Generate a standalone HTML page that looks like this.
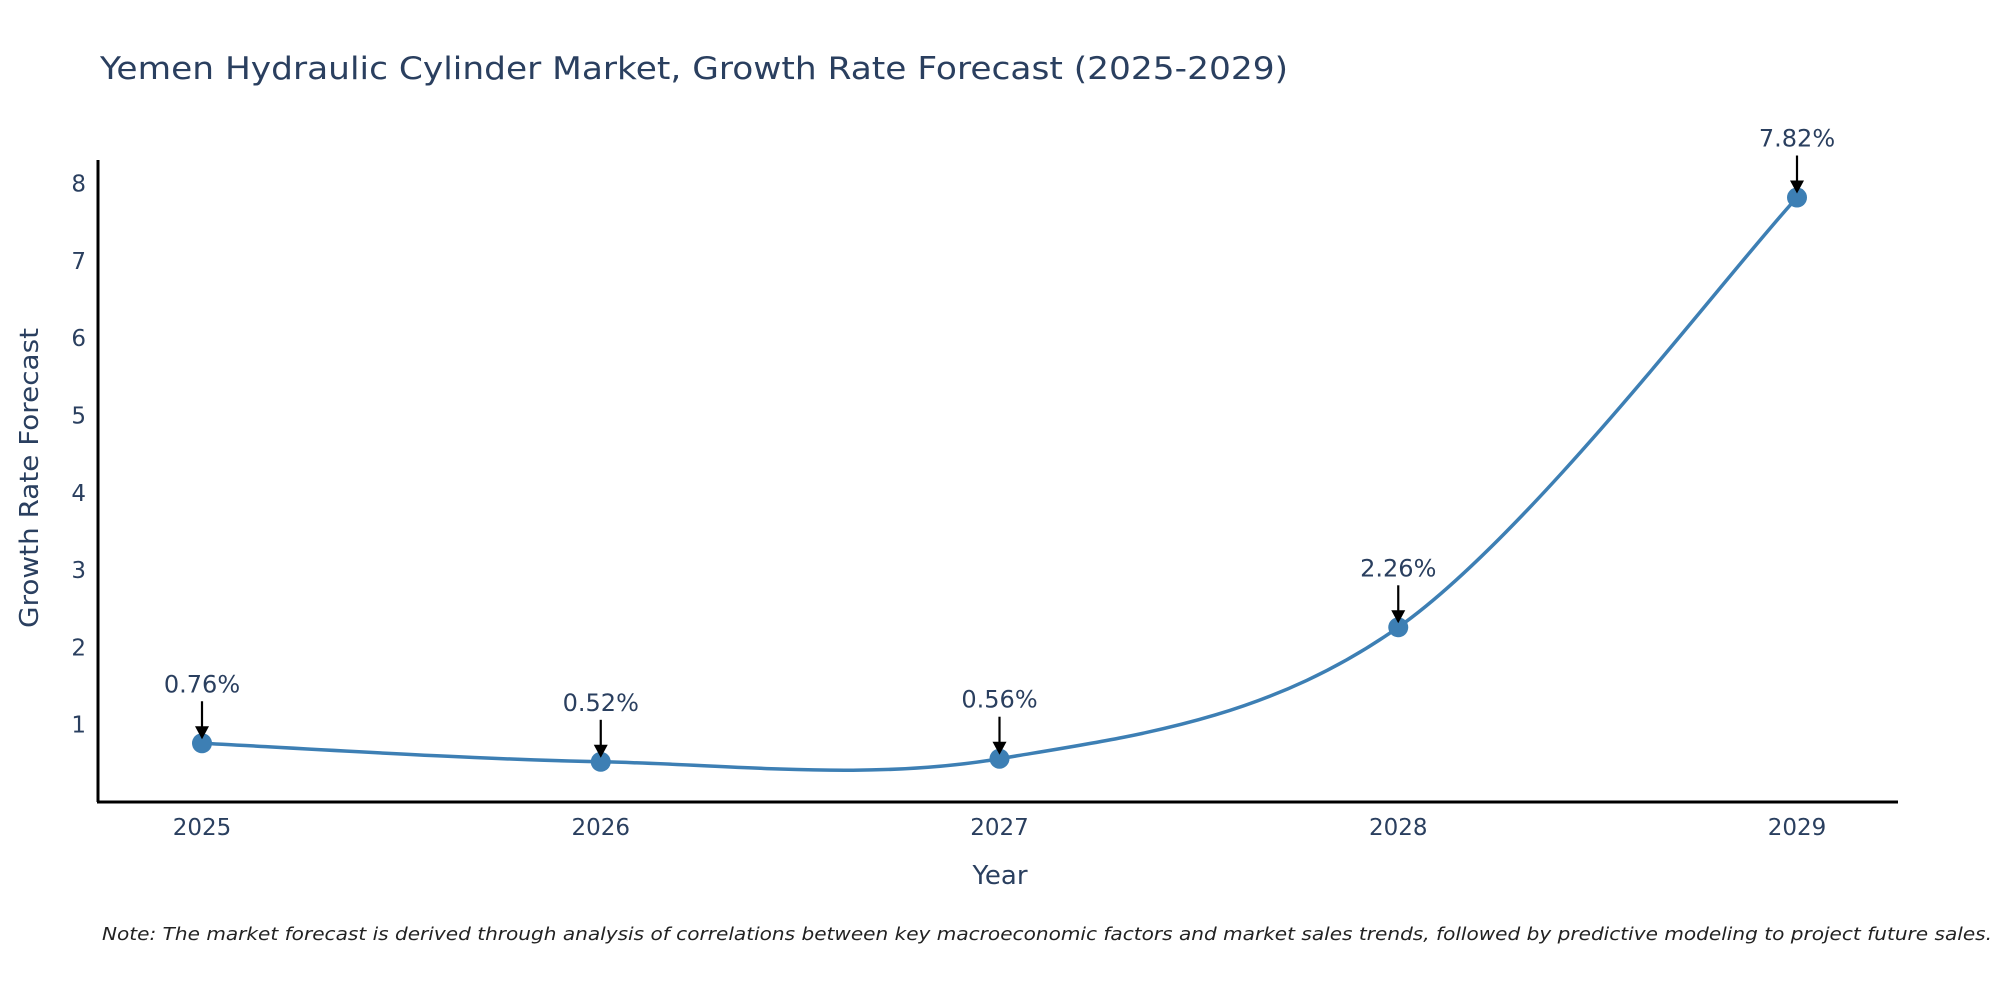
<!DOCTYPE html>
<html><head><meta charset="utf-8"><style>
body{margin:0;background:#fff;}
svg{display:block;font-family:"DejaVu Sans","Liberation Sans",sans-serif;}
</style></head><body>
<svg id="chart" width="2000" height="1000" viewBox="0 0 2000 1000">
<text x="100" y="79" font-size="31" fill="#2a3f5f" textLength="1188" lengthAdjust="spacingAndGlyphs">Yemen Hydraulic Cylinder Market, Growth Rate Forecast (2025-2029)</text>
<g id="yticks"></g><g id="xticks"></g>
<line x1="98" y1="160" x2="98" y2="802" stroke="#000" stroke-width="3"/>
<line x1="97" y1="802" x2="1898" y2="802" stroke="#000" stroke-width="3"/>
<path id="line" fill="none" stroke="#3d7fb4" stroke-width="3.5"/>
<g id="marks"></g>
<text x="1000" y="884" font-size="26" fill="#2a3f5f" text-anchor="middle">Year</text>
<text transform="translate(38,478) rotate(-90)" font-size="26" fill="#2a3f5f" text-anchor="middle" textLength="300" lengthAdjust="spacingAndGlyphs">Growth Rate Forecast</text>
<text x="102" y="940" font-size="18" font-style="italic" fill="#222" textLength="1890" lengthAdjust="spacingAndGlyphs">Note: The market forecast is derived through analysis of correlations between key macroeconomic factors and market sales trends, followed by predictive modeling to project future sales.</text>
</svg>
<script>
const years=["2025","2026","2027","2028","2029"];
const values=[0.76,0.52,0.56,2.26,7.82];
const labels=["0.76%","0.52%","0.56%","2.26%","7.82%"];
const yTicks=[1,2,3,4,5,6,7,8];
const NS="http://www.w3.org/2000/svg";
function xs(i){return 202+i*398.75;}
function ys(v){return 802-v*77.3;}
function mk(t,a,p){const e=document.createElementNS(NS,t);for(const k in a)e.setAttribute(k,a[k]);p.appendChild(e);return e;}
const yg=document.getElementById('yticks');
yTicks.forEach(v=>{const t=mk('text',{x:86,y:ys(v)+8,'font-size':23,fill:'#2a3f5f','text-anchor':'end'},yg);t.textContent=v;

});
const xg=document.getElementById('xticks');
years.forEach((y,i)=>{const t=mk('text',{x:xs(i),y:835,'font-size':23,fill:'#2a3f5f','text-anchor':'middle'},xg);t.textContent=y;

});
const P=values.map((v,i)=>[xs(i),ys(v)]);
let d=`M${P[0][0]},${P[0][1]}`;
for(let i=0;i<P.length-1;i++){const p0=P[i-1]||P[i],p1=P[i],p2=P[i+1],p3=P[i+2]||P[i+1];
const c1=[p1[0]+(p2[0]-p0[0])/6,p1[1]+(p2[1]-p0[1])/6];
const c2=[p2[0]-(p3[0]-p1[0])/6,p2[1]-(p3[1]-p1[1])/6];
d+=` C${c1[0]},${c1[1]} ${c2[0]},${c2[1]} ${p2[0]},${p2[1]}`;}
document.getElementById('line').setAttribute('d',d);
const mg=document.getElementById('marks');
values.forEach((v,i)=>{const x=xs(i),y=ys(v);
const c=mk('circle',{cx:x,cy:y,r:10,fill:'#3d7fb4'},mg);


const l=mk('line',{x1:x,y1:y-42,x2:x,y2:y-14,stroke:'#000','stroke-width':2.2},mg);


const a=mk('polygon',{points:`${x-7},${y-17} ${x+7},${y-17} ${x},${y-4}`,fill:'#000'},mg);


const t=mk('text',{x:x,y:y-51,'font-size':24,fill:'#2a3f5f','text-anchor':'middle'},mg);t.textContent=labels[i];

});
</script>
</body></html>
